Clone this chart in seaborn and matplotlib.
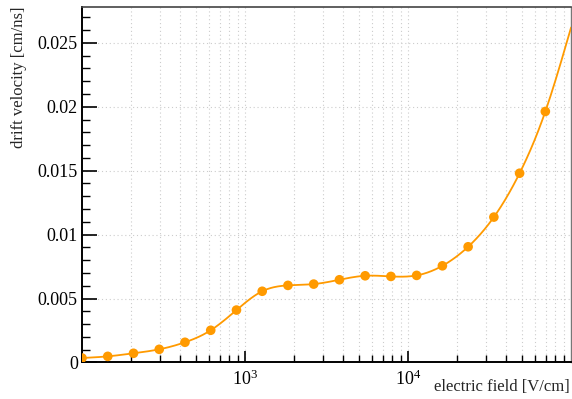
import numpy as np
import pandas as pd
import matplotlib
matplotlib.use("Agg")
import matplotlib.pyplot as plt
import matplotlib.ticker as mticker
import seaborn as sns

# electric field [V/cm] and drift velocity [cm/ns]
field = [100, 143.8, 206.9, 297.6, 428.1, 615.8, 885.9, 1274.3, 1833, 2636.7,
         3792.7, 5455.6, 7847.6, 11288, 16238, 23357, 33598, 48329, 69519, 100000]
velocity = [0.00035, 0.00048, 0.00072, 0.00103, 0.00158, 0.00252, 0.0041, 0.00557,
            0.00603, 0.00613, 0.00647, 0.00678, 0.00673, 0.00681, 0.00756, 0.00905,
            0.01137, 0.0148, 0.01963, 0.0262]
n_markers = 19  # last point sits on the frame edge, no marker drawn there

orange = "#ff9a00"

# smooth curve through the points (natural cubic spline in log10(E))
t = np.log10(field)
v = np.array(velocity)
h = np.diff(t)
n = len(t)
A = np.zeros((n, n))
b = np.zeros(n)
A[0, 0] = A[-1, -1] = 1
for i in range(1, n - 1):
    A[i, i - 1] = h[i - 1]
    A[i, i] = 2 * (h[i - 1] + h[i])
    A[i, i + 1] = h[i]
    b[i] = 6 * ((v[i + 1] - v[i]) / h[i] - (v[i] - v[i - 1]) / h[i - 1])
M = np.linalg.solve(A, b)
ts = np.linspace(t[0], t[-1], 600)
idx = np.clip(np.searchsorted(t, ts) - 1, 0, n - 2)
x0, x1 = t[idx], t[idx + 1]
hh = x1 - x0
a_ = (x1 - ts) / hh
b_ = (ts - x0) / hh
vs = (a_ * v[idx] + b_ * v[idx + 1]
      + ((a_**3 - a_) * M[idx] + (b_**3 - b_) * M[idx + 1]) * hh**2 / 6)

curve = pd.DataFrame({"E": 10**ts, "v": vs})
pts = pd.DataFrame({"E": field[:n_markers], "v": velocity[:n_markers]})

sns.set_style("ticks")
plt.rcParams["font.family"] = ["Liberation Serif", "DejaVu Serif"]
plt.rcParams["mathtext.fontset"] = "custom"
plt.rcParams["mathtext.rm"] = "Liberation Serif"
plt.rcParams["mathtext.it"] = "Liberation Serif:italic"

fig = plt.figure(figsize=(5.72, 3.99), dpi=100)
ax = fig.add_axes([0.1434, 0.0915, 0.855, 0.891])

sns.lineplot(data=curve, x="E", y="v", ax=ax, color=orange, lw=1.3,
             sort=False, estimator=None, zorder=3)
sns.scatterplot(data=pts, x="E", y="v", ax=ax, color=orange, s=48,
                edgecolor="none", zorder=4)

ax.set_xscale("log")
ax.set_xlim(100, 100000)
ax.set_ylim(0, 0.0278)

ax.xaxis.set_major_locator(mticker.FixedLocator([1e3, 1e4]))
ax.xaxis.set_major_formatter(mticker.LogFormatterSciNotation())
ax.xaxis.set_minor_locator(mticker.LogLocator(base=10, subs=np.arange(2, 10), numticks=20))
ax.xaxis.set_minor_formatter(mticker.NullFormatter())
ax.yaxis.set_major_locator(mticker.MultipleLocator(0.005))
ax.yaxis.set_minor_locator(mticker.MultipleLocator(0.001))
ax.yaxis.set_major_formatter(mticker.FuncFormatter(lambda y, p: "0" if y == 0 else f"{y:g}"))

ax.tick_params(axis="both", which="both", direction="in", labelsize=13, colors="black")
ax.tick_params(axis="y", which="major", length=11, width=1.2, pad=3)
ax.tick_params(axis="y", which="minor", length=6, width=1.0)
ax.tick_params(axis="x", which="major", length=8, width=1.2, pad=5)
ax.tick_params(axis="x", which="minor", length=5, width=1.0)

ax.grid(True, axis="x", which="both", color="#cccccc", ls=(0, (1, 2.5)), lw=0.8)
ax.grid(True, axis="y", which="major", color="#cccccc", ls=(0, (1, 2.5)), lw=0.8)
ax.set_axisbelow(True)

for side in ["left", "bottom"]:
    ax.spines[side].set_color("black")
    ax.spines[side].set_linewidth(1.4)
ax.spines["top"].set_color("#444444")
ax.spines["top"].set_linewidth(1.2)
ax.spines["right"].set_color("#777777")
ax.spines["right"].set_linewidth(1.0)

ax.set_xlabel("electric field [V/cm]", fontsize=12, loc="right")
ax.set_ylabel("drift velocity [cm/ns]", fontsize=12, loc="top")
ax.xaxis.set_label_coords(0.997, -0.047)
ax.yaxis.set_label_coords(-0.113, 1.0)

fig.savefig("out.png", dpi=100)
